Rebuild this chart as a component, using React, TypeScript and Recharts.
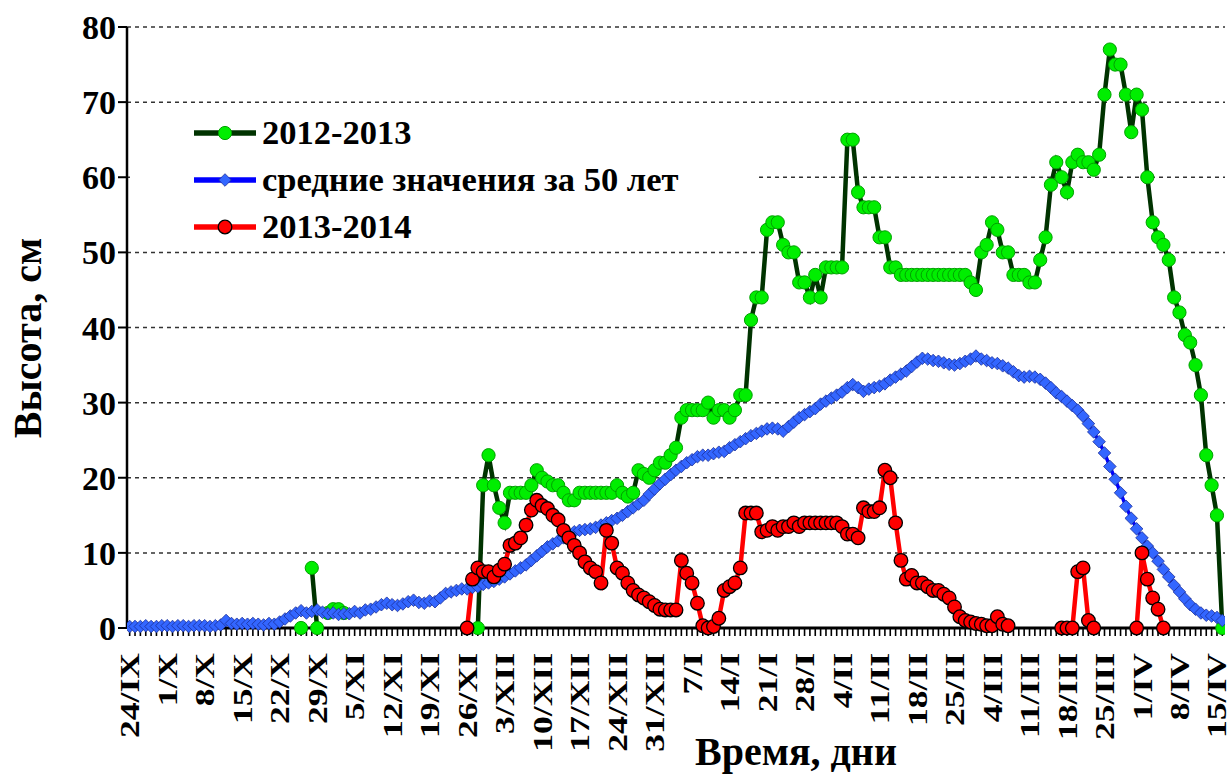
import React from 'react';
import { LineChart, Line, XAxis, YAxis, CartesianGrid } from 'recharts';

// weekly tick labels (every 7th day starting 24/IX)
const weekLabels = [
  '24/IX', '1/X', '8/X', '15/X', '22/X', '29/X', '5/XI', '12/XI', '19/XI', '26/XI',
  '3/XII', '10/XII', '17/XII', '24/XII', '31/XII', '7/I', '14/I', '21/I', '28/I', '4/II',
  '11/II', '18/II', '25/II', '4/III', '11/III', '18/III', '25/III', '1/IV', '8/IV', '15/IV',
];

const yTicks = [0, 10, 20, 30, 40, 50, 60, 70, 80];

// 2012-2013 (daily, from 24/IX)
const season2012 = [
  null, null, null, null, null, null, null, null, null, null,
  null, null, null, null, null, null, null, null, null, null,
  null, null, null, null, null, null, null, null, null, null,
  null, null, 0, null, 8, 0, null, 2, 2.5, 2.5,
  2, null, null, null, null, null, null, null, null, null,
  null, null, null, null, null, null, null, null, null, null,
  null, null, null, null, null, 0, 19, 23, 19, 16,
  14, 18, 18, 18, 18, 19, 21, 20, 19.5, 19,
  19, 18, 17, 17, 18, 18, 18, 18, 18, 18,
  18, 19, 18, 17.5, 18, 21, 20.5, 20, 21, 22,
  22, 23, 24, 28, 29, 29, 29, 29, 30, 28,
  29, 29, 28, 29, 31, 31, 41, 44, 44, 53,
  54, 54, 51, 50, 50, 46, 46, 44, 47, 44,
  48, 48, 48, 48, 65, 65, 58, 56, 56, 56,
  52, 52, 48, 48, 47, 47, 47, 47, 47, 47,
  47, 47, 47, 47, 47, 47, 47, 46, 45, 50,
  51, 54, 53, 50, 50, 47, 47, 47, 46, 46,
  49, 52, 59, 62, 60, 58, 62, 63, 62, 62,
  61, 63, 71, 77, 75, 75, 71, 66, 71, 69,
  60, 54, 52, 51, 49, 44, 42, 39, 38, 35,
  31, 23, 19, 15, 0,
];

// average over 50 years
const average50 = [
  0.2, 0.2, 0.2, 0.3, 0.2, 0.2, 0.3, 0.3, 0.2, 0.3,
  0.3, 0.2, 0.3, 0.3, 0.3, 0.2, 0.3, 0.4, 1, 0.6,
  0.5, 0.6, 0.5, 0.6, 0.5, 0.4, 0.6, 0.5, 0.8, 1.2,
  1.6, 2, 2.3, 2, 2.2, 2.4, 2.1, 1.9, 2, 1.8,
  1.9, 1.9, 2.2, 2, 2.4, 2.5, 2.8, 3.1, 3.3, 3.1,
  3, 3.2, 3.5, 3.7, 3.4, 3.3, 3.6, 3.5, 4, 4.6,
  4.8, 5, 5.2, 5.2, 5.4, 5.5, 5.8, 6, 6.2, 6.5,
  6.8, 7.2, 7.6, 8, 8.4, 9, 9.6, 10.2, 10.8, 11.2,
  11.6, 12, 12.5, 12.8, 13, 13.1, 13.2, 13.4, 13.7, 14,
  14.3, 14.6, 15, 15.5, 16, 16.5, 17, 17.8, 18.5, 19.2,
  19.8, 20.4, 21, 21.5, 22, 22.4, 22.8, 23, 23, 23.2,
  23.4, 23.5, 24, 24.4, 24.8, 25.2, 25.6, 25.9, 26.2, 26.5,
  26.6, 26.5, 26.2, 26.8, 27.4, 28, 28.4, 28.8, 29.2, 29.8,
  30.2, 30.6, 31, 31.4, 32, 32.4, 32, 31.5, 31.8, 32,
  32.2, 32.5, 33, 33.4, 33.8, 34.2, 34.8, 35.4, 35.9, 35.8,
  35.6, 35.5, 35.3, 35.1, 35, 35.2, 35.5, 35.8, 36.2, 35.8,
  35.6, 35.3, 35.2, 34.9, 34.6, 34.1, 33.6, 33.4, 33.5, 33.4,
  33.1, 32.6, 32, 31.3, 30.8, 30.2, 29.6, 29, 28.2, 27.2,
  26.1, 24.8, 23.3, 21.5, 19.8, 18, 16.2, 14.6, 13.2, 12,
  10.9, 10, 8.9, 7.8, 6.8, 5.7, 4.8, 3.9, 3.1, 2.5,
  2, 1.7, 1.6, 1.4, 1,
];

// 2013-2014
const season2013 = [
  null, null, null, null, null, null, null, null, null, null,
  null, null, null, null, null, null, null, null, null, null,
  null, null, null, null, null, null, null, null, null, null,
  null, null, null, null, null, null, null, null, null, null,
  null, null, null, null, null, null, null, null, null, null,
  null, null, null, null, null, null, null, null, null, null,
  null, null, null, 0, 6.5, 8, 7.5, 7.5, 6.8, 7.7,
  8.5, 11, 11.3, 12, 13.7, 15.7, 17, 16.3, 15.9, 15,
  14.4, 13, 12, 11, 10, 8.8, 8, 7.5, 6, 13,
  11.3, 8, 7.3, 6, 5, 4.4, 4, 3.5, 3, 2.5,
  2.4, 2.4, 2.4, 9, 7.3, 6, 3.3, 0.3, 0, 0.2,
  1.3, 5, 5.5, 6, 8, 15.3, 15.3, 15.3, 12.8, 13,
  13.5, 13, 13.5, 13.5, 14, 13.5, 14, 14, 14, 14,
  14, 14, 14, 13.5, 12.5, 12.5, 12, 16, 15.5, 15.5,
  16, 21, 20, 14, 9, 6.5, 7, 6, 6, 5.5,
  5, 5, 4.5, 4, 2.8, 1.5, 1, 0.8, 0.6, 0.5,
  0.3, 0.3, 1.5, 0.5, 0.3, null, null, null, null, null,
  null, null, null, null, 0, 0, 0, 7.5, 8, 1,
  0, null, null, null, null, null, null, null, 0, 10,
  6.5, 4, 2.5, 0, null, null, null, null, null, null,
  null, null, null, null, null,
];

const data = average50.map((v, i) => ({
  i,
  s2012: season2012[i],
  avg: v,
  s2013: season2013[i],
}));
const dayTicks = data.map((d) => d.i);

const FONT = '"Liberation Serif", "Times New Roman", Times, serif';

const XTick = (props: any) => {
  const { x, payload } = props;
  const v = payload.value;
  if (v % 7 !== 0) return <g />;
  const fs = 28;
  return (
    <text
      transform={`translate(${x + fs * 0.34}, 653) rotate(-90) scale(1.27, 1)`}
      textAnchor="end"
      fontFamily={FONT}
      fontWeight="bold"
      fontSize={fs}
      fill="#000"
    >
      {weekLabels[v / 7]}
    </text>
  );
};

const GreenDot = (p: any) => {
  if (p.value == null || p.cy == null) return <g key={`g${p.index}`} />;
  return <circle key={`g${p.index}`} cx={p.cx} cy={p.cy} r={6.6} fill="#00ee00" stroke="#00a000" strokeWidth={1} />;
};
const BlueDot = (p: any) => {
  if (p.value == null || p.cy == null) return <g key={`b${p.index}`} />;
  const s = 6.3;
  const { cx, cy } = p;
  return (
    <path
      key={`b${p.index}`}
      d={`M${cx},${cy - s} L${cx + s},${cy} L${cx},${cy + s} L${cx - s},${cy} Z`}
      fill="#3366ff"
      stroke="#1a2f99"
      strokeWidth={0.8}
    />
  );
};
const RedDot = (p: any) => {
  if (p.value == null || p.cy == null) return <g key={`r${p.index}`} />;
  return <circle key={`r${p.index}`} cx={p.cx} cy={p.cy} r={6.8} fill="#ff0000" stroke="#000" strokeWidth={1.3} />;
};

const legendItems = [
  { label: '2012-2013', line: '#003300', kind: 'green' },
  { label: 'средние значения за 50 лет', line: '#0000ff', kind: 'blue' },
  { label: '2013-2014', line: '#ff0000', kind: 'red' },
];

export default function App() {
  const legendRowY = [133, 180, 227];
  return (
    <div style={{ position: 'absolute', left: 0, top: 0, width: 1230, height: 774, background: '#fff' }}>
      <LineChart
        width={1230}
        height={774}
        data={data}
        margin={{ top: 27, right: 5, bottom: 0, left: 0 }}
      >
        <CartesianGrid horizontal vertical={false} stroke="#333" strokeDasharray="4 4" strokeWidth={1.5} />
        <XAxis
          dataKey="i"
          type="number"
          domain={[-0.5, 204.5]}
          ticks={dayTicks}
          interval={0}
          height={146}
          tickSize={8}
          tick={<XTick />}
          axisLine={{ stroke: '#000', strokeWidth: 3 }}
          tickLine={{ stroke: '#000', strokeWidth: 1.6 }}
          allowDataOverflow
        />
        <YAxis
          type="number"
          domain={[0, 80]}
          ticks={yTicks}
          width={127}
          tickSize={9}
          interval={0}
          axisLine={{ stroke: '#000', strokeWidth: 2.5 }}
          tickLine={{ stroke: '#000', strokeWidth: 2 }}
          tick={{ fontFamily: FONT, fontWeight: 'bold', fontSize: 34, fill: '#000' }}
        />
        <Line
          dataKey="s2012"
          stroke="#003300"
          strokeWidth={4.5}
          dot={GreenDot}
          activeDot={false}
          isAnimationActive={false}
          connectNulls={false}
        />
        <Line
          dataKey="avg"
          stroke="#0000ff"
          strokeWidth={3.5}
          dot={BlueDot}
          activeDot={false}
          isAnimationActive={false}
        />
        <Line
          dataKey="s2013"
          stroke="#ff0000"
          strokeWidth={4.5}
          dot={RedDot}
          activeDot={false}
          isAnimationActive={false}
          connectNulls={false}
        />
      </LineChart>
      <svg
        width={1230}
        height={774}
        style={{ position: 'absolute', left: 0, top: 0, pointerEvents: 'none' }}
      >
        <rect x={130} y={107} width={628} height={141} fill="#fff" />
        {legendItems.map((it, k) => {
          const y = legendRowY[k];
          return (
            <g key={it.label}>
              <line x1={194} x2={256} y1={y} y2={y} stroke={it.line} strokeWidth={5.5} />
              {it.kind === 'green' && <circle cx={225} cy={y} r={6.6} fill="#00ee00" stroke="#00a000" strokeWidth={1} />}
              {it.kind === 'blue' && (
                <path d={`M225,${y - 6.3} L231.3,${y} L225,${y + 6.3} L218.7,${y} Z`} fill="#3366ff" stroke="#1a2f99" strokeWidth={0.8} />
              )}
              {it.kind === 'red' && <circle cx={225} cy={y} r={6.8} fill="#ff0000" stroke="#000" strokeWidth={1.3} />}
              <text x={262} y={y + 11} fontFamily={FONT} fontWeight="bold" fontSize={34.5} fill="#000">
                {it.label}
              </text>
            </g>
          );
        })}
        <text
          transform={`translate(${28 + 13}, 338) rotate(-90)`}
          textAnchor="middle"
          fontFamily={FONT}
          fontWeight="bold"
          fontSize={40}
          fill="#000"
        >
          Высота, см
        </text>
        <text x={796} y={765} textAnchor="middle" fontFamily={FONT} fontWeight="bold" fontSize={40} fill="#000">
          Время, дни
        </text>
      </svg>
    </div>
  );
}
